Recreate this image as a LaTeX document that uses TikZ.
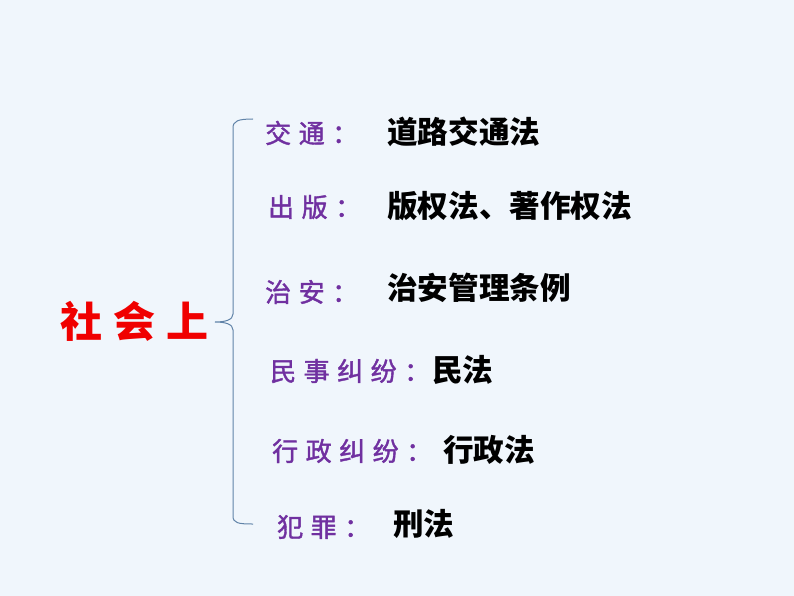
\documentclass[tikz,border=0pt]{standalone}
\usepackage{fontspec}
\newfontfamily\cjk{Noto Sans CJK SC}
\newfontfamily\cjkfb{Noto Sans CJK SC}[FakeBold=1.5]
\definecolor{bgc}{HTML}{F0F6FC}
\definecolor{purp}{HTML}{7030A0}
\definecolor{redc}{HTML}{F00000}
\definecolor{bracec}{HTML}{6083A8}
\begin{document}
\begin{tikzpicture}[x=1pt,y=-1pt,
  topic/.style={anchor=west,inner sep=0pt,text=purp,font=\cjkfb\fontsize{26}{28}\selectfont},
  law/.style={anchor=west,inner sep=0pt,text=black,font=\cjk\bfseries\fontsize{30.6}{34}\selectfont},
  title/.style={anchor=west,inner sep=0pt,text=redc,font=\cjk\bfseries\fontsize{42}{46}\selectfont}]
\fill[bgc] (0,0) rectangle (794,596);
\useasboundingbox (0,0) rectangle (794,596);
\def\sp{\hspace{7.5pt}}
\node[title] (root) at (60,321) {社\hspace{11pt}会\hspace{11pt}上};
\coordinate (tip) at (215,322);
\coordinate (top) at (253,119);
\coordinate (bot) at (253,524);
\draw[bracec,line width=1pt]
  (top) .. controls (238,119) and (233,121) .. (233,128)
  -- (233,314) .. controls (233,320) and (225,322) .. (tip)
  .. controls (225,322) and (233,324) .. (233,330)
  -- (233,516) .. controls (233,523) and (238,524) .. (bot);
\node[topic] (t1) at (265,133) {交\sp 通\sp ：};
\node[topic] (t2) at (268,207) {出\sp 版\sp ：};
\node[topic] (t3) at (265,292) {治\sp 安\sp ：};
\node[topic] (t4) at (270,371) {民\sp 事\sp 纠\sp 纷\sp ：};
\node[topic] (t5) at (272,451) {行\sp 政\sp 纠\sp 纷\sp ：};
\node[topic] (t6) at (277,527) {犯\sp 罪\sp ：};
\node[law] (l1) at (387,132) {道路交通法};
\node[law] (l2) at (387,206) {版权法、著作权法};
\node[law] (l3) at (387,288) {治安管理条例};
\node[law] (l4) at (432,370) {民法};
\node[law] (l5) at (443,450) {行政法};
\node[law] (l6) at (393,524) {刑法};
\end{tikzpicture}
\end{document}
